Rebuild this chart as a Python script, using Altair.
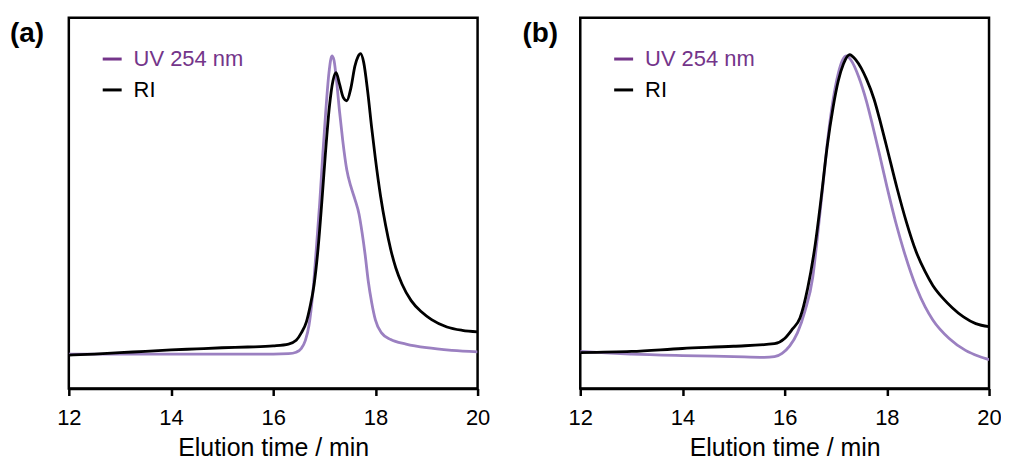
import altair as alt
import pandas as pd

# ---------------- data ----------------
a_uv_t = [12.0, 13.0, 14.0, 15.0, 16.0, 16.3, 16.45, 16.55, 16.63, 16.7, 16.77, 16.84, 16.91, 16.97,
          17.03, 17.09, 17.15, 17.19, 17.23, 17.3, 17.36, 17.44, 17.52, 17.6, 17.68, 17.74, 17.8,
          17.86, 17.93, 18.0, 18.12, 18.3, 18.6, 19.0, 19.5, 20.0]
a_uv_v = [0.093, 0.093, 0.093, 0.093, 0.093, 0.094, 0.098, 0.108, 0.13, 0.17, 0.25, 0.37, 0.5, 0.63,
          0.75, 0.85, 0.897, 0.885, 0.843, 0.745, 0.67, 0.59, 0.545, 0.51, 0.47, 0.42, 0.36,
          0.29, 0.23, 0.185, 0.15, 0.132, 0.12, 0.11, 0.103, 0.099]

a_ri_t = [12.0, 12.5, 13.0, 13.5, 14.0, 14.5, 15.0, 15.5, 16.0, 16.3, 16.45, 16.55, 16.65, 16.72,
          16.8, 16.88, 16.95, 17.02, 17.1, 17.17, 17.23, 17.3, 17.37, 17.44, 17.52, 17.6, 17.66,
          17.71, 17.77, 17.85, 17.93, 18.0, 18.1, 18.2, 18.3, 18.4, 18.52, 18.7, 18.9, 19.1, 19.4,
          19.7, 20.0]
a_ri_v = [0.09, 0.093, 0.097, 0.1, 0.104, 0.107, 0.11, 0.112, 0.115, 0.12, 0.13, 0.15, 0.18, 0.22,
          0.28, 0.38, 0.5, 0.63, 0.76, 0.83, 0.852, 0.82, 0.785, 0.776, 0.81, 0.87, 0.895,
          0.903, 0.88, 0.8, 0.7, 0.62, 0.52, 0.44, 0.375, 0.325, 0.282, 0.237, 0.207, 0.186, 0.166,
          0.157, 0.153]

b_uv_t = [12.0, 12.5, 13.0, 14.0, 15.0, 15.6, 15.8, 15.95, 16.1, 16.25, 16.4, 16.55, 16.65, 16.75,
          16.85, 16.95, 17.05, 17.13, 17.21, 17.3, 17.45, 17.6, 17.72, 17.85, 18.0, 18.18, 18.34,
          18.57, 18.75, 18.9, 19.22, 19.54, 19.8, 20.0]
b_uv_v = [0.1, 0.096, 0.093, 0.089, 0.086, 0.084, 0.086, 0.095, 0.115, 0.15, 0.21, 0.3, 0.42, 0.55,
          0.68, 0.78, 0.85, 0.885, 0.897, 0.885, 0.84, 0.775, 0.71, 0.635, 0.545, 0.445, 0.368,
          0.275, 0.22, 0.185, 0.135, 0.103, 0.087, 0.078]

b_ri_t = [12.0, 13.0, 14.0, 15.0, 15.8, 16.0, 16.15, 16.3, 16.45, 16.6, 16.72, 16.83, 16.95, 17.05,
          17.15, 17.27, 17.4, 17.6, 17.75, 17.88, 18.0, 18.2, 18.38, 18.57, 18.75, 18.9, 19.1,
          19.28, 19.5, 19.74, 20.0]
b_ri_v = [0.097, 0.1, 0.108, 0.114, 0.121, 0.135, 0.16, 0.19, 0.27, 0.39, 0.52, 0.65, 0.76, 0.83,
          0.875, 0.9, 0.885, 0.835, 0.78, 0.715, 0.65, 0.54, 0.45, 0.37, 0.315, 0.278, 0.243,
          0.218, 0.193, 0.175, 0.167]

series_names = ["UV 254 nm", "RI"]
line_colors = ["#9b80c1", "#000000"]
legend_colors = ["#74358a", "#000000"]
x_ticks = [12, 14, 16, 18, 20]
x_title = "Elution time / min"
panel_tags = ["(a)", "(b)"]

FONT = "Liberation Sans"
W, H = 410, 372


def panel(uv_t, uv_v, ri_t, ri_v, tag, tag_x):
    df = pd.concat([
        pd.DataFrame({"t": uv_t, "v": uv_v, "s": series_names[0], "o": 0}),
        pd.DataFrame({"t": ri_t, "v": ri_v, "s": series_names[1], "o": 1}),
    ], ignore_index=True)

    x = alt.X("t:Q", scale=alt.Scale(domain=[12, 20], nice=False, zero=False),
              axis=alt.Axis(values=x_ticks, title=x_title, format="d", labelFlush=False))
    y = alt.Y("v:Q", scale=alt.Scale(domain=[0, 1], nice=False), axis=None)

    lines = alt.Chart(df).mark_line(strokeWidth=2.8, interpolate="monotone", clip=True).encode(
        x=x, y=y,
        color=alt.Color("s:N", scale=alt.Scale(domain=series_names, range=line_colors), legend=None),
        detail="o:N",
    )

    one = pd.DataFrame({"k": [0]})
    layers = [lines]
    ys = [41.5, 72.5]
    for name, col, yy in zip(series_names, legend_colors, ys):
        layers.append(alt.Chart(one).mark_rule(color=col, strokeWidth=3).encode(
            x=alt.value(34), x2=alt.value(53), y=alt.value(yy)))
        layers.append(alt.Chart(one).mark_text(
            text=name, color=col, font=FONT, fontSize=22, align="left", baseline="middle"
        ).encode(x=alt.value(65), y=alt.value(yy)))
    layers.append(alt.Chart(one).mark_text(
        text=tag, color="black", font=FONT, fontSize=28, fontWeight="bold",
        align="left", baseline="middle").encode(x=alt.value(tag_x), y=alt.value(16)))
    return alt.layer(*layers).properties(width=W, height=H)


pa = panel(a_uv_t, a_uv_v, a_ri_t, a_ri_v, panel_tags[0], -59)
pb = panel(b_uv_t, b_uv_v, b_ri_t, b_ri_v, panel_tags[1], -58)

chart = alt.hconcat(pa, pb, spacing=103, bounds="flush").properties(
    padding={"left": 0, "top": 7, "right": -2, "bottom": 0}
).configure_view(
    stroke="black", strokeWidth=2.5
).configure_axis(
    grid=False,
    domainColor="black", domainWidth=2.5,
    tickColor="black", tickWidth=2.5, tickSize=7,
    labelFont=FONT, labelFontSize=22, labelColor="black", labelPadding=12,
    titleFont=FONT, titleFontSize=25, titleFontWeight="normal", titleColor="black", titlePadding=7,
)

chart.save("out.html", embed_options={"renderer": "svg", "actions": False})
